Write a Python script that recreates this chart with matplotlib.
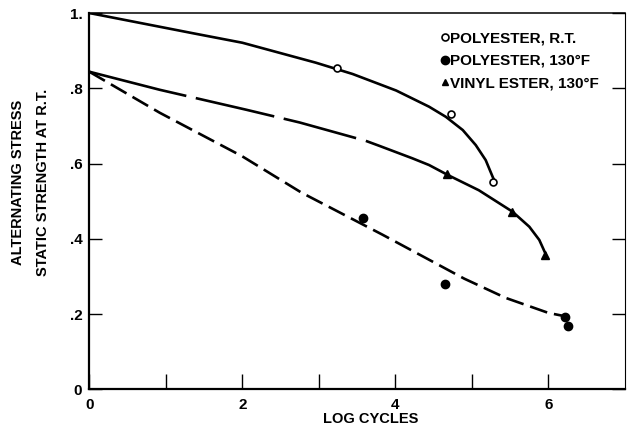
import numpy as np
import matplotlib
matplotlib.use('Agg')
import matplotlib.pyplot as plt
from matplotlib.lines import Line2D

plt.rcParams['font.family'] = ['Liberation Sans', 'DejaVu Sans']
plt.rcParams['font.weight'] = 'bold'
plt.rcParams['lines.scale_dashes'] = False

# measured points
rt_x = [3.24, 4.72, 5.28]
rt_y = [0.854, 0.731, 0.550]
p130_x = [3.58, 4.65, 6.22, 6.25]
p130_y = [0.456, 0.279, 0.193, 0.169]
ve_x = [4.68, 5.53, 5.96]
ve_y = [0.572, 0.472, 0.357]

# hand drawn fit curves
rt_curve_x = [0, 1.36, 2.0, 2.96, 3.44, 3.79, 4.01, 4.22, 4.44, 4.66, 4.88, 5.05,
              5.18, 5.27, 5.29]
rt_curve_y = [1.0, 0.946, 0.921, 0.868, 0.838, 0.811, 0.794, 0.773, 0.751, 0.724,
              0.689, 0.649, 0.609, 0.565, 0.556]
p130_curve_x = [0, 0.92, 2.0, 2.77, 3.83, 4.9, 5.44, 6.0, 6.22]
p130_curve_y = [0.844, 0.735, 0.619, 0.523, 0.411, 0.294, 0.243, 0.203, 0.194]
ve_curve_x = [0, 0.92, 2.05, 2.75, 3.53, 3.63, 3.79, 4.22, 4.44, 4.69, 5.09, 5.53,
              5.75, 5.88, 5.96]
ve_curve_y = [0.844, 0.796, 0.743, 0.709, 0.665, 0.659, 0.647, 0.614, 0.596, 0.569,
              0.529, 0.472, 0.432, 0.397, 0.361]
ve_solid_from = 3.6

labels = ['POLYESTER, R.T.', 'POLYESTER, 130\u00b0F', 'VINYL ESTER, 130\u00b0F']

fig = plt.figure(figsize=(6.27, 4.28), dpi=100)
ax = fig.add_axes([0.1424, 0.0904, 0.8544, 0.8792])

lw = 1.9
ax.plot(rt_curve_x, rt_curve_y, color='black', lw=lw)
ax.plot(p130_curve_x, p130_curve_y, color='black', lw=lw, linestyle=(0, (13, 5)))
vx = np.array(ve_curve_x)
vy = np.array(ve_curve_y)
dash = vx < ve_solid_from
ax.plot(vx[dash], vy[dash], color='black', lw=lw,
        linestyle=(0, (72, 7, 58, 7, 54, 20)))
ax.plot(vx[~dash], vy[~dash], color='black', lw=lw)

ax.plot(rt_x, rt_y, 'o', ms=5, mfc='white', mec='black', mew=1.2, ls='none')
ax.plot(p130_x, p130_y, 'o', ms=6, color='black', ls='none')
ax.plot(ve_x, ve_y, '^', ms=6, color='black', ls='none')

ax.set_xlim(0, 7)
ax.set_ylim(0, 1)
ax.set_xticks([0, 2, 4, 6])
ax.set_xticklabels(['0', '2', '4', '6'])
ax.set_xticks([1, 3, 5], minor=True)
ax.set_yticks([0, 0.2, 0.4, 0.6, 0.8, 1.0])
ax.set_yticklabels(['0', '.2', '.4', '.6', '.8', '1.'])
ax.tick_params(axis='x', which='both', direction='in', length=11, width=1, pad=6,
               labelsize=11)
ax.tick_params(axis='y', which='both', direction='in', length=9.5, width=1, pad=5,
               labelsize=11, right=True)
for lab in ax.get_xticklabels() + ax.get_yticklabels():
    lab.set_fontweight('bold')

ax.spines['left'].set_linewidth(1.6)
ax.spines['bottom'].set_linewidth(1.6)
ax.spines['top'].set_linewidth(1.1)
ax.spines['right'].set_linewidth(0.8)

handles = [
    Line2D([], [], marker='o', ms=5, mfc='white', mec='black', mew=1.2, ls='none'),
    Line2D([], [], marker='o', ms=6, color='black', ls='none'),
    Line2D([], [], marker='^', ms=5, color='black', ls='none'),
]
leg = ax.legend(handles, labels, loc='upper left', bbox_to_anchor=(0.6565, 0.951),
                frameon=False, handlelength=0.5, handletextpad=0.1, labelspacing=0.55,
                borderpad=0, borderaxespad=0, prop={'size': 11, 'weight': 'bold'})

fig.text(0.049, 0.575, 'ALTERNATING STRESS\nSTATIC STRENGTH AT R.T.', rotation=90,
         ha='center', va='center', fontsize=10.5, fontweight='bold', linespacing=2.0)
fig.text(0.591, 0.021, 'LOG CYCLES', ha='center', va='center', fontsize=10.5,
         fontweight='bold')

fig.savefig('out.png', dpi=100)
